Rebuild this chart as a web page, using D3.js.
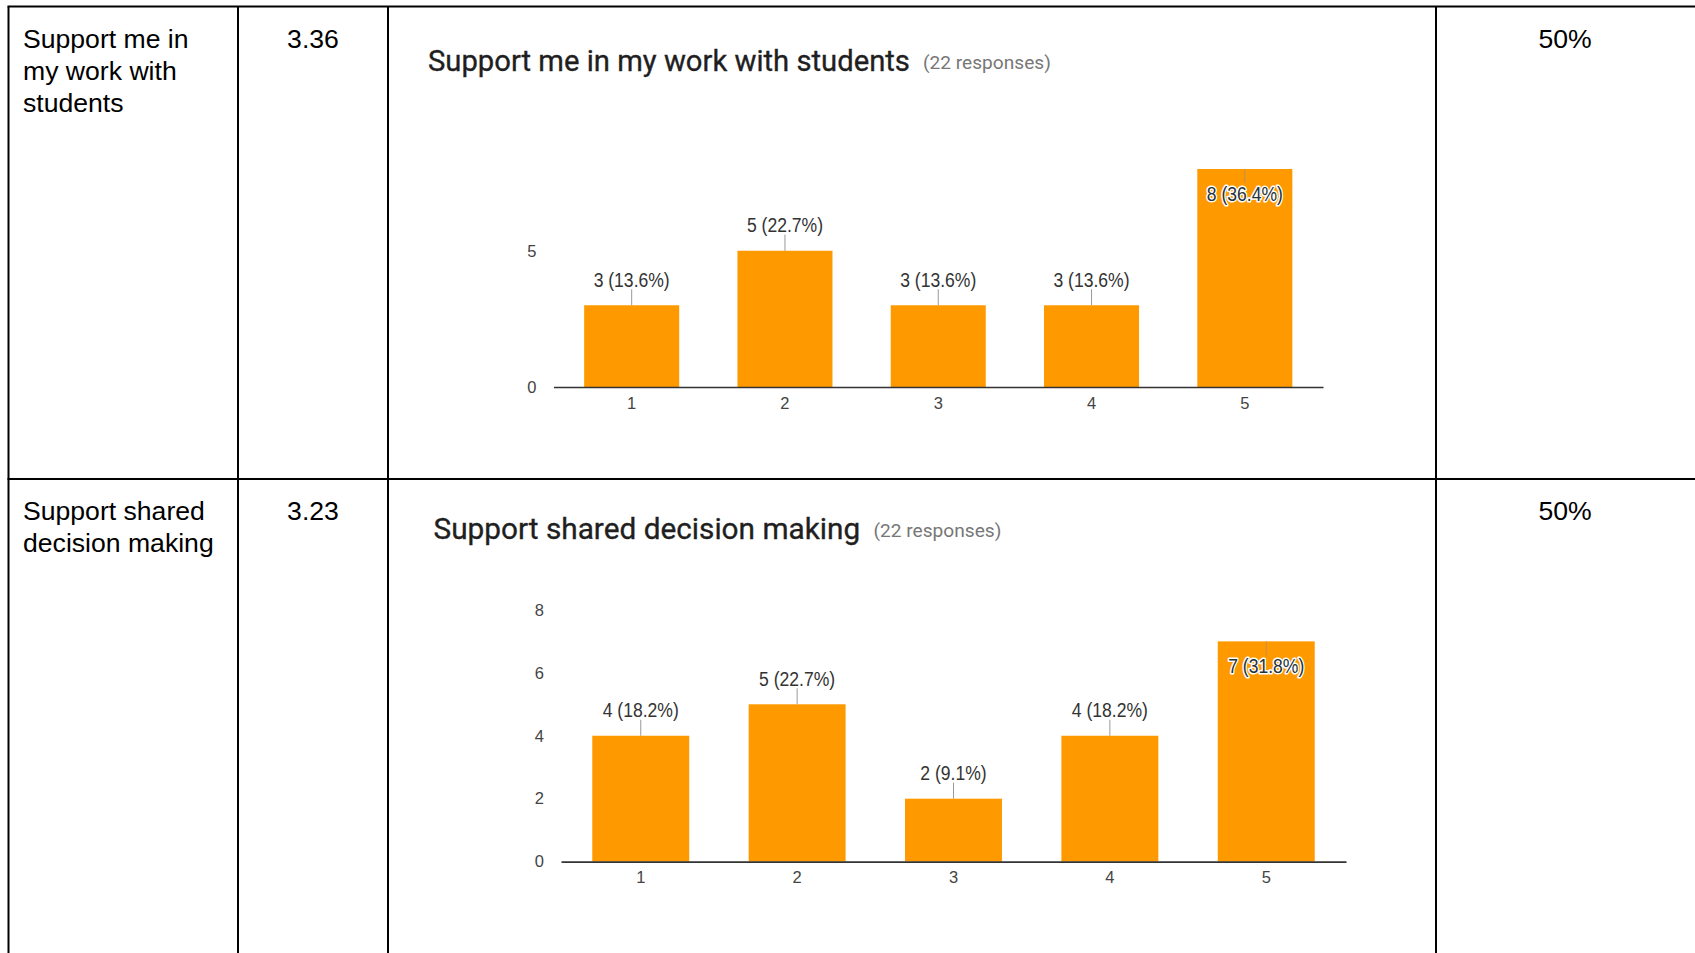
<!DOCTYPE html>
<html>
<head>
<meta charset="utf-8">
<script src="https://cdn.jsdelivr.net/npm/d3@7/dist/d3.min.js"></script>
<style>
  html, body { margin: 0; padding: 0; background: #fff; }
  svg { display: block; }
</style>
</head>
<body>
<svg id="c" width="1695" height="953"></svg>
<script>
// ---- data ----
const rowLabels1 = ["Support me in", "my work with", "students"];
const rowLabels2 = ["Support shared", "decision making"];
const means = ["3.36", "3.23"];
const shares = ["50%", "50%"];
const titles = ["Support me in my work with students", "Support shared decision making"];
const responses = ["(22 responses)", "(22 responses)"];
const categories = ["1", "2", "3", "4", "5"];
const counts1 = [3, 5, 3, 3, 8];
const counts2 = [4, 5, 2, 4, 7];
const pctLabels1 = ["13.6%", "22.7%", "13.6%", "13.6%", "36.4%"];
const pctLabels2 = ["18.2%", "22.7%", "9.1%", "18.2%", "31.8%"];
const yTicks1 = [0, 5];
const yTicks2 = [0, 2, 4, 6, 8];

const svg = d3.select("#c");
const tableFont = "'Liberation Sans', Arial, sans-serif";
const chartFont = "'Liberation Sans', Arial, sans-serif";
const titleFont = "Roboto, 'Noto Sans', sans-serif";

// ---- table grid ----
const grid = svg.append("g").attr("stroke", "#000").attr("stroke-width", 2);
const vLines = [8.5, 238, 388, 1436];
vLines.forEach(x => grid.append("line").attr("x1", x).attr("x2", x).attr("y1", 6.5).attr("y2", 960));
grid.append("line").attr("x1", 7.5).attr("x2", 1700).attr("y1", 6.5).attr("y2", 6.5);
grid.append("line").attr("x1", 7.5).attr("x2", 1700).attr("y1", 479).attr("y2", 479);

// ---- table text ----
function cellLines(lines, x, y0) {
  const t = svg.append("text").attr("font-family", tableFont).attr("font-size", 26.6).attr("fill", "#000");
  lines.forEach((s, i) => t.append("tspan").attr("x", x).attr("y", y0 + i * 32.2).text(s));
}
cellLines(rowLabels1, 23, 47.5);
cellLines(rowLabels2, 23, 519.5);
[[means[0], 313, 47.5], [means[1], 313, 519.5], [shares[0], 1565, 47.5], [shares[1], 1565, 519.5]].forEach(d => {
  svg.append("text").attr("x", d[1]).attr("y", d[2]).attr("text-anchor", "middle")
    .attr("font-family", tableFont).attr("font-size", 26.6).attr("fill", "#000").text(d[0]);
});

function fitSize(text, family, targetW) {
  const p = svg.append("text").attr("font-family", family).attr("font-size", 20).text(text);
  const w = p.node().getComputedTextLength();
  p.remove();
  return 20 * targetW / w;
}

// condensed annotation text
function annot(g, x, y, label, halo) {
  const t = g.append("text").attr("x", x).attr("y", y).attr("text-anchor", "middle")
    .attr("font-family", chartFont).attr("font-size", 19.5).text(label);
  const w = t.node().getComputedTextLength();
  t.attr("textLength", w * 0.9).attr("lengthAdjust", "spacingAndGlyphs");
  if (halo) {
    t.attr("fill", "#263238").attr("stroke", "#fff").attr("stroke-width", 3)
      .attr("stroke-linejoin", "round").attr("paint-order", "stroke");
  } else {
    t.attr("fill", "#333");
  }
}

// ---- charts ----
function drawChart(cfg) {
  const g = svg.append("g");
  g.append("text").attr("x", cfg.titleX).attr("y", cfg.titleY)
    .attr("font-family", titleFont).attr("font-size", fitSize(cfg.title, titleFont, cfg.titleW))
    .attr("fill", "#1f1f1f").attr("stroke", "#1f1f1f").attr("stroke-width", 0.35).text(cfg.title);
  g.append("text").attr("x", cfg.titleX + cfg.titleW + 13).attr("y", cfg.titleY - 2)
    .attr("font-family", titleFont).attr("font-size", fitSize(cfg.resp, titleFont, 128))
    .attr("fill", "#777").text(cfg.resp);

  const x = d3.scaleBand().domain(categories).range(cfg.xRange).paddingInner(0.38).paddingOuter(0.2);
  const y = d3.scaleLinear().domain([0, 8]).range(cfg.yRange);

  const ya = g.append("g").attr("transform", `translate(${cfg.xRange[0]},0)`)
    .call(d3.axisLeft(y).tickValues(cfg.yTicks).tickSize(0).tickPadding(17).tickFormat(d3.format("d")));
  ya.select(".domain").remove();
  ya.selectAll("text").attr("font-family", chartFont).attr("font-size", 16.5).attr("fill", "#444");

  g.selectAll("rect.bar").data(cfg.values).join("rect").attr("class", "bar")
    .attr("x", (d, i) => x(categories[i])).attr("width", x.bandwidth())
    .attr("y", d => y(d)).attr("height", d => y(0) - y(d)).attr("fill", "#ff9900");

  const xa = g.append("g").attr("transform", `translate(0,${y(0)})`)
    .call(d3.axisBottom(x).tickSize(0).tickPadding(10));
  xa.select(".domain").attr("stroke", "#333").attr("stroke-width", 1.6);
  xa.selectAll("text").attr("font-family", chartFont).attr("font-size", 16.5).attr("fill", "#444");

  cfg.values.forEach((v, i) => {
    const cx = x(categories[i]) + x.bandwidth() / 2;
    const top = y(v);
    const inside = top - 40 < cfg.yRange[1] - 5;
    const label = v + " (" + cfg.pcts[i] + ")";
    if (!inside) {
      g.append("line").attr("x1", cx).attr("x2", cx).attr("y1", top).attr("y2", top - 16)
        .attr("stroke", "#999").attr("stroke-width", 1);
      annot(g, cx, top - 18.5, label, false);
    } else {
      g.append("line").attr("x1", cx).attr("x2", cx).attr("y1", top).attr("y2", top + 14)
        .attr("stroke", "#c09050").attr("stroke-width", 1);
      annot(g, cx, top + 32, label, true);
    }
  });
}

drawChart({
  title: titles[0], resp: responses[0], titleX: 428, titleY: 70.5, titleW: 482,
  values: counts1, pcts: pctLabels1, yTicks: yTicks1,
  xRange: [553.5, 1323], yRange: [387, 169]
});
drawChart({
  title: titles[1], resp: responses[1], titleX: 433.5, titleY: 538.5, titleW: 427,
  values: counts2, pcts: pctLabels2, yTicks: yTicks2,
  xRange: [561, 1346], yRange: [861.6, 609.9]
});
</script>
</body>
</html>
